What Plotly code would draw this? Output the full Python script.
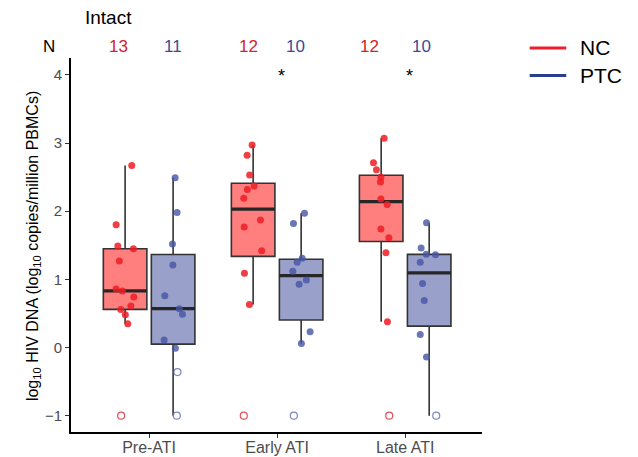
import numpy as np
import plotly.graph_objects as go

# Timepoints on the x axis and the two participant groups
timepoints = ["Pre-ATI", "Early ATI", "Late ATI"]
groups = ["NC", "PTC"]

# log10 intact HIV DNA (copies / million PBMCs); -1 marks values below detection
nc_pre = [2.67, 1.80, 1.49, 1.45, 1.27, 0.86, 0.83, 0.74, 0.61, 0.56, 0.48, 0.35, -1.00]
nc_early = [2.97, 2.82, 2.53, 2.37, 2.32, 2.19, 1.87, 1.77, 1.42, 1.09, 0.63, -1.00]
nc_late = [3.07, 2.71, 2.61, 2.50, 2.43, 2.18, 2.10, 1.74, 1.61, 1.39, 0.38, -1.00]
ptc_pre = [2.49, 1.98, 1.52, 1.21, 0.76, 0.57, 0.49, 0.11, -0.01, -0.36, -1.00]
ptc_early = [1.97, 1.82, 1.31, 1.25, 1.12, 0.99, 0.93, 0.23, 0.06, -1.00]
ptc_late = [1.83, 1.46, 1.37, 1.36, 1.25, 0.94, 0.69, 0.19, -0.14, -1.00]

# 1 = detected, 0 = below the limit of detection (open symbol)
nc_pre_detected = [1, 1, 1, 1, 1, 1, 1, 1, 1, 1, 1, 1, 0]
nc_early_detected = [1, 1, 1, 1, 1, 1, 1, 1, 1, 1, 1, 0]
nc_late_detected = [1, 1, 1, 1, 1, 1, 1, 1, 1, 1, 1, 0]
ptc_pre_detected = [1, 1, 1, 1, 1, 1, 1, 1, 1, 0, 0]
ptc_early_detected = [1, 1, 1, 1, 1, 1, 1, 1, 1, 0]
ptc_late_detected = [1, 1, 1, 1, 1, 1, 1, 1, 1, 0]

# Horizontal jitter of each point (category units)
nc_pre_jitter = [0.052, -0.070, -0.057, 0.065, -0.045, -0.070, -0.021, 0.068, 0.045, -0.034, 0.002, 0.021, -0.031]
nc_early_jitter = [-0.008, -0.047, -0.027, 0.008, -0.045, -0.073, 0.057, -0.070, 0.067, -0.068, -0.029, -0.073]
nc_late_jitter = [0.023, -0.060, -0.037, -0.002, -0.005, -0.002, 0.047, -0.002, 0.060, 0.037, 0.049, 0.063]
ptc_pre_jitter = [0.016, 0.031, -0.005, -0.002, -0.065, 0.049, 0.073, -0.070, 0.018, 0.034, 0.029]
ptc_early_jitter = [0.026, -0.060, 0.008, -0.031, -0.065, 0.041, -0.016, 0.070, 0.002, -0.057]
ptc_late_jitter = [-0.021, -0.063, -0.023, 0.049, -0.070, -0.052, -0.039, -0.070, -0.021, 0.055]

# Significance marks per timepoint
signif = ["", "*", "*"]

series = {
    "NC": [(nc_pre, nc_pre_detected, nc_pre_jitter),
           (nc_early, nc_early_detected, nc_early_jitter),
           (nc_late, nc_late_detected, nc_late_jitter)],
    "PTC": [(ptc_pre, ptc_pre_detected, ptc_pre_jitter),
            (ptc_early, ptc_early_detected, ptc_early_jitter),
            (ptc_late, ptc_late_detected, ptc_late_jitter)],
}

style = {
    "NC": dict(fill="rgba(255,0,0,0.5)", point="rgba(238,28,36,0.85)",
               open="rgba(224,60,70,0.9)", text="#D3222A", legend="#EE1F2B",
               dodge=-0.1875, nlab=[-0.242, -0.227, -0.276]),
    "PTC": dict(fill="rgba(52,68,150,0.5)", point="rgba(70,84,165,0.8)",
                open="rgba(110,122,185,0.9)", text="#3B4B94", legend="#2B3D8F",
                dodge=0.1875, nlab=[0.185, 0.14, 0.127]),
}

FONT = "Liberation Sans, Arial, sans-serif"
BOX_W = 0.34

fig = go.Figure()


def box_stats(vals):
    v = np.asarray(vals, dtype=float)
    q1, med, q3 = np.percentile(v, [25, 50, 75])
    iqr = q3 - q1
    lo = v[v >= q1 - 1.5 * iqr].min()
    hi = v[v <= q3 + 1.5 * iqr].max()
    return q1, med, q3, lo, hi


for g in groups:
    st = style[g]
    for i, (vals, det, jit) in enumerate(series[g]):
        pos = i + 1 + st["dodge"]
        q1, med, q3, lo, hi = box_stats(vals)
        fig.add_trace(go.Box(
            x=[pos], q1=[q1], median=[med], q3=[q3],
            lowerfence=[lo], upperfence=[hi],
            width=BOX_W, whiskerwidth=0, boxpoints=False,
            fillcolor=st["fill"], line=dict(color="#333333", width=1.6),
            showlegend=False, hoverinfo="skip",
        ))
        # thicker median bar
        fig.add_trace(go.Scatter(
            x=[pos - BOX_W / 2, pos + BOX_W / 2], y=[med, med], mode="lines",
            line=dict(color="#262626", width=3.2), showlegend=False, hoverinfo="skip",
        ))
        xs = [pos + j for j in jit]
        fx = [x for x, d in zip(xs, det) if d]
        fy = [y for y, d in zip(vals, det) if d]
        ox = [x for x, d in zip(xs, det) if not d]
        oy = [y for y, d in zip(vals, det) if not d]
        fig.add_trace(go.Scatter(
            x=fx, y=fy, mode="markers",
            marker=dict(size=7, color=st["point"], line=dict(width=0)),
            showlegend=False, hoverinfo="skip",
        ))
        fig.add_trace(go.Scatter(
            x=ox, y=oy, mode="markers",
            marker=dict(size=7, symbol="circle-open", color=st["open"], line=dict(width=1.2)),
            showlegend=False, hoverinfo="skip",
        ))

X0, X1 = 0.39, 3.6


def xpaper(v):
    return (v - X0) / (X1 - X0)


annotations = []
# Panel title and sample sizes above the panel
annotations.append(dict(x=xpaper(0.219), y=1.031, xref="paper", yref="paper", text="N",
                        xanchor="center", yanchor="middle", showarrow=False,
                        font=dict(family=FONT, size=17, color="black")))
annotations.append(dict(x=xpaper(0.68), y=1.108, xref="paper", yref="paper", text="Intact",
                        xanchor="center", yanchor="middle", showarrow=False,
                        font=dict(family=FONT, size=19, color="black")))
for g in groups:
    st = style[g]
    for i, (vals, det, jit) in enumerate(series[g]):
        annotations.append(dict(
            x=xpaper(i + 1 + st["nlab"][i]), y=1.031, xref="paper", yref="paper",
            xanchor="center", yanchor="middle",
            text=str(len(vals)), showarrow=False,
            font=dict(family=FONT, size=17, color=st["text"])))
for i, s in enumerate(signif):
    if s:
        annotations.append(dict(x=i + 1.033, y=3.98, xref="x", yref="y", text=s,
                                xanchor="center", yanchor="middle", showarrow=False,
                                font=dict(family=FONT, size=18, color="black")))

# y-axis title
annotations.append(dict(
    x=-0.0925, y=0.497, xref="paper", yref="paper", textangle=-90,
    xanchor="center", yanchor="middle",
    text="log<sub>10</sub> HIV DNA (log<sub>10</sub> copies/million PBMCs)",
    showarrow=False, font=dict(family=FONT, size=16, color="black")))

# legend (line keys)
shapes = []
legend_y = {"NC": 1.027, "PTC": 0.953}
for g in groups:
    shapes.append(dict(type="line", xref="paper", yref="paper",
                       x0=1.116, x1=1.205, y0=legend_y[g], y1=legend_y[g],
                       line=dict(color=style[g]["legend"], width=3)))
    annotations.append(dict(x=1.234, y=legend_y[g], xref="paper", yref="paper",
                            xanchor="left", yanchor="middle", text=g, showarrow=False,
                            font=dict(family=FONT, size=21, color="black")))

fig.update_layout(
    width=638, height=457,
    margin=dict(l=71, r=156, t=58, b=25),
    paper_bgcolor="white", plot_bgcolor="white",
    showlegend=False,
    annotations=annotations, shapes=shapes,
    xaxis=dict(range=[X0, X1], tickvals=[1, 2, 3], ticktext=timepoints,
               automargin=False,
               showline=True, linecolor="black", linewidth=1.6,
               ticks="outside", ticklen=4, tickcolor="#333333", tickwidth=1.2,
               ticklabelstandoff=-4,
               showgrid=False, zeroline=False,
               tickfont=dict(family=FONT, size=16, color="#4D4D4D")),
    yaxis=dict(range=[-1.239, 4.248], tickvals=[-1, 0, 1, 2, 3, 4],
               ticktext=["\u22121", "0", "1", "2", "3", "4"],
               automargin=False,
               showline=True, linecolor="black", linewidth=1.6,
               ticks="outside", ticklen=4, tickcolor="#333333", tickwidth=1.2,
               showgrid=False, zeroline=False,
               tickfont=dict(family=FONT, size=15, color="#4D4D4D")),
)

fig.write_html("out.html")
